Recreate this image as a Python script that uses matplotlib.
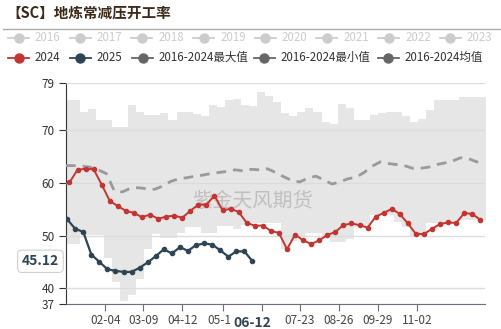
import numpy as np
import pandas as pd
import matplotlib
matplotlib.use('Agg')
import matplotlib.pyplot as plt
from matplotlib.lines import Line2D

plt.rcParams['font.family'] = ['Noto Sans CJK SC', 'DejaVu Sans']

#%% ---------------------------------------------------------------------------------
# data (weekly, plotted on a common calendar year)
title = '【SC】地炼常减压开工率'

start_2024 = '2025-01-04'
start_2025 = '2025-01-02'
start_band = '2024-12-30'
start_mean = '2025-01-01'

y2024 = [60.1, 62.5, 62.7, 62.6, 59.7, 56.6, 55.6, 54.7, 54.3, 53.5,
         54.0, 53.2, 53.6, 53.8, 53.4, 54.7, 55.9, 55.9, 57.6, 54.8,
         55.1, 54.5, 52.4, 51.9, 51.9, 50.9, 50.5, 47.4, 50.2, 49.1,
         48.4, 49.1, 50.1, 50.7, 52.0, 52.3, 52.0, 51.5, 53.6, 54.3,
         55.1, 54.1, 52.3, 50.3, 50.3, 51.3, 52.2, 52.5, 52.4, 54.3,
         54.1, 53.0]

y2025 = [53.1, 51.3, 50.7, 46.4, 45.0, 43.6, 43.3, 43.1, 43.1, 43.9,
         44.9, 46.1, 47.4, 46.6, 47.8, 47.1, 48.2, 48.5, 48.3, 47.2,
         46.0, 47.0, 47.0, 45.12]

max_vals = [75.7, 75.7, 73.4, 74.0, 71.9, 71.9, 70.6, 70.6, 74.9, 73.4,
            73.0, 73.0, 73.3, 72.0, 73.4, 73.4, 73.2, 72.8, 74.9, 74.4,
            75.8, 76.0, 74.8, 74.6, 77.3, 76.6, 75.3, 73.3, 72.7, 73.5,
            74.3, 73.4, 71.6, 71.3, 75.1, 74.3, 71.9, 71.9, 73.0, 73.3,
            73.5, 73.5, 72.8, 71.5, 72.2, 73.9, 75.7, 75.7, 75.7, 76.3,
            76.3, 76.3, 76.3]

min_vals = [48.4, 48.4, 50.1, 50.1, 50.2, 45.7, 41.2, 37.5, 38.7, 41.7,
            47.5, 50.3, 49.6, 49.6, 50.5, 51.7, 51.7, 50.5, 50.4, 51.8,
            51.8, 51.2, 52.0, 52.4, 52.4, 52.4, 52.4, 47.5, 49.0, 50.0,
            50.5, 50.5, 50.0, 48.8, 48.8, 49.4, 51.7, 51.7, 53.9, 53.9,
            53.9, 52.6, 51.7, 49.9, 49.9, 52.3, 52.3, 52.3, 52.3, 52.9,
            52.9, 52.9, 52.9]

mean_vals = [63.3, 63.3, 63.2, 63.0, 62.5, 61.8, 58.5, 58.3, 59.0, 59.1,
             58.9, 58.8, 59.4, 60.3, 60.8, 61.0, 61.3, 61.5, 61.8, 62.0,
             62.2, 62.5, 62.3, 62.6, 62.5, 62.7, 62.0, 61.2, 60.5, 60.2,
             60.9, 61.3, 60.6, 59.8, 60.2, 60.8, 61.1, 62.0, 63.2, 64.0,
             63.7, 63.5, 63.3, 62.8, 62.8, 63.0, 63.5, 63.8, 64.2, 64.8,
             64.6, 64.0, 63.7]

xtick_dates = ['02-04', '03-09', '04-12', '05-17', '06-20', '07-23', '08-26', '09-29', '11-02']
xtick_labels = ['02-04', '03-09', '04-12', '05-17', '', '07-23', '08-26', '09-29', '11-02']  # 06-20 sits under the pointer label
yticks = [37, 40, 50, 60, 70, 79]

legend_row1 = ['2016', '2017', '2018', '2019', '2020', '2021', '2022', '2023']
legend_row2 = ['2024', '2025', '2016-2024最大值', '2016-2024最小值', '2016-2024均值']

#%% ---------------------------------------------------------------------------------
W, H = 502, 329
fig = plt.figure(figsize=(W / 100, H / 100), dpi=100)
ax = fig.add_axes([66 / W, 1 - 304 / H, (485 - 66) / W, (304 - 83) / H])

x24 = pd.date_range(start_2024, periods=len(y2024), freq='7D')
x25 = pd.date_range(start_2025, periods=len(y2025), freq='7D')
xb = pd.date_range(start_band, periods=len(max_vals) + 1, freq='7D')
xm = pd.date_range(start_mean, periods=len(mean_vals), freq='7D')

top = np.append(max_vals, max_vals[-1])
bot = np.append(min_vals, min_vals[-1])
ax.fill_between(xb, bot, top, step='post', color='#e6e6e6', lw=0, zorder=1)

ax.plot(xm, mean_vals, color='#9a9a9a', lw=2, ls=(0, (3.5, 2.5)), zorder=3)

ax.text(0.445, 0.465, '紫金天风期货', transform=ax.transAxes, fontsize=14.5,
        color='#9a9a9a', alpha=0.5, ha='center', va='center', zorder=2)

ax.plot(x24, y2024, color='#c23531', lw=1.4, marker='o', ms=3, zorder=4)
ax.plot(x25, y2025, color='#2f4554', lw=1.6, marker='o', ms=3, zorder=5)

ax.set_xlim(pd.Timestamp('2025-01-01'), pd.Timestamp('2025-12-31'))
ax.set_ylim(37, 79)
ax.set_yticks(yticks)
ax.set_yticklabels([str(v) for v in yticks])
ax.set_xticks([pd.Timestamp('2025-' + s) for s in xtick_dates])
ax.set_xticklabels(xtick_labels)

ax.grid(axis='y', color='#dcdcdc', lw=1)
ax.set_axisbelow(False)
for s in ['top', 'right']:
    ax.spines[s].set_visible(False)
ax.spines['left'].set_color('#333333')
ax.spines['bottom'].set_color('#6e7079')
ax.tick_params(axis='y', length=5, color='#333333', labelsize=8.5, labelcolor='#333333', pad=3)
ax.tick_params(axis='x', length=5, color='#6e7079', labelsize=8.5, labelcolor='#444444', pad=2)

# axis pointer labels
last_x = x25[-1]
ax.annotate('06-12', xy=(last_x, 37), xycoords='data', xytext=(0, -14), textcoords='offset points',
            ha='center', va='center', fontsize=10, fontweight='bold', color='#2f4554',
            bbox=dict(boxstyle='square,pad=0.25', fc='white', ec='none'), annotation_clip=False, zorder=10)
ax.annotate('45.12', xy=(0, y2025[-1]), xycoords=('axes fraction', 'data'), xytext=(-5, 0),
            textcoords='offset points', ha='right', va='center', fontsize=10, fontweight='bold',
            color='#2f4554', bbox=dict(boxstyle='round,pad=0.3', fc='white', ec='#d0d0d0', lw=0.8),
            annotation_clip=False, zorder=10)

# title and separator
fig.text(6 / W, 1 - 13 / H, title, fontsize=10.5, fontweight='bold', color='#3b2a1a', va='center', ha='left')
fig.add_artist(Line2D([3 / W, 1], [1 - 28.5 / H] * 2, color='#aaaaaa', lw=1))

# legend
def legend_item(px, py, label, color, tcolor):
    fig.add_artist(Line2D([px / W, (px + 21) / W], [1 - py / H] * 2, color=color, lw=1.3))
    fig.add_artist(Line2D([(px + 10.5) / W], [1 - py / H], color=color, marker='o', ms=6.5, lw=0))
    fig.text((px + 27) / W, 1 - py / H, label, fontsize=8.3, color=tcolor, va='center', ha='left')

for i, name in enumerate(legend_row1):
    legend_item(8 + 61.7 * i, 37.5, name, '#cccccc', '#cccccc')

row2_x = [8, 70, 132, 254, 378]
row2_c = ['#c23531', '#2f4554', '#666666', '#666666', '#666666']
for px, name, c in zip(row2_x, legend_row2, row2_c):
    legend_item(px, 57.5, name, c, '#333333')

fig.savefig('out.png', dpi=100)
